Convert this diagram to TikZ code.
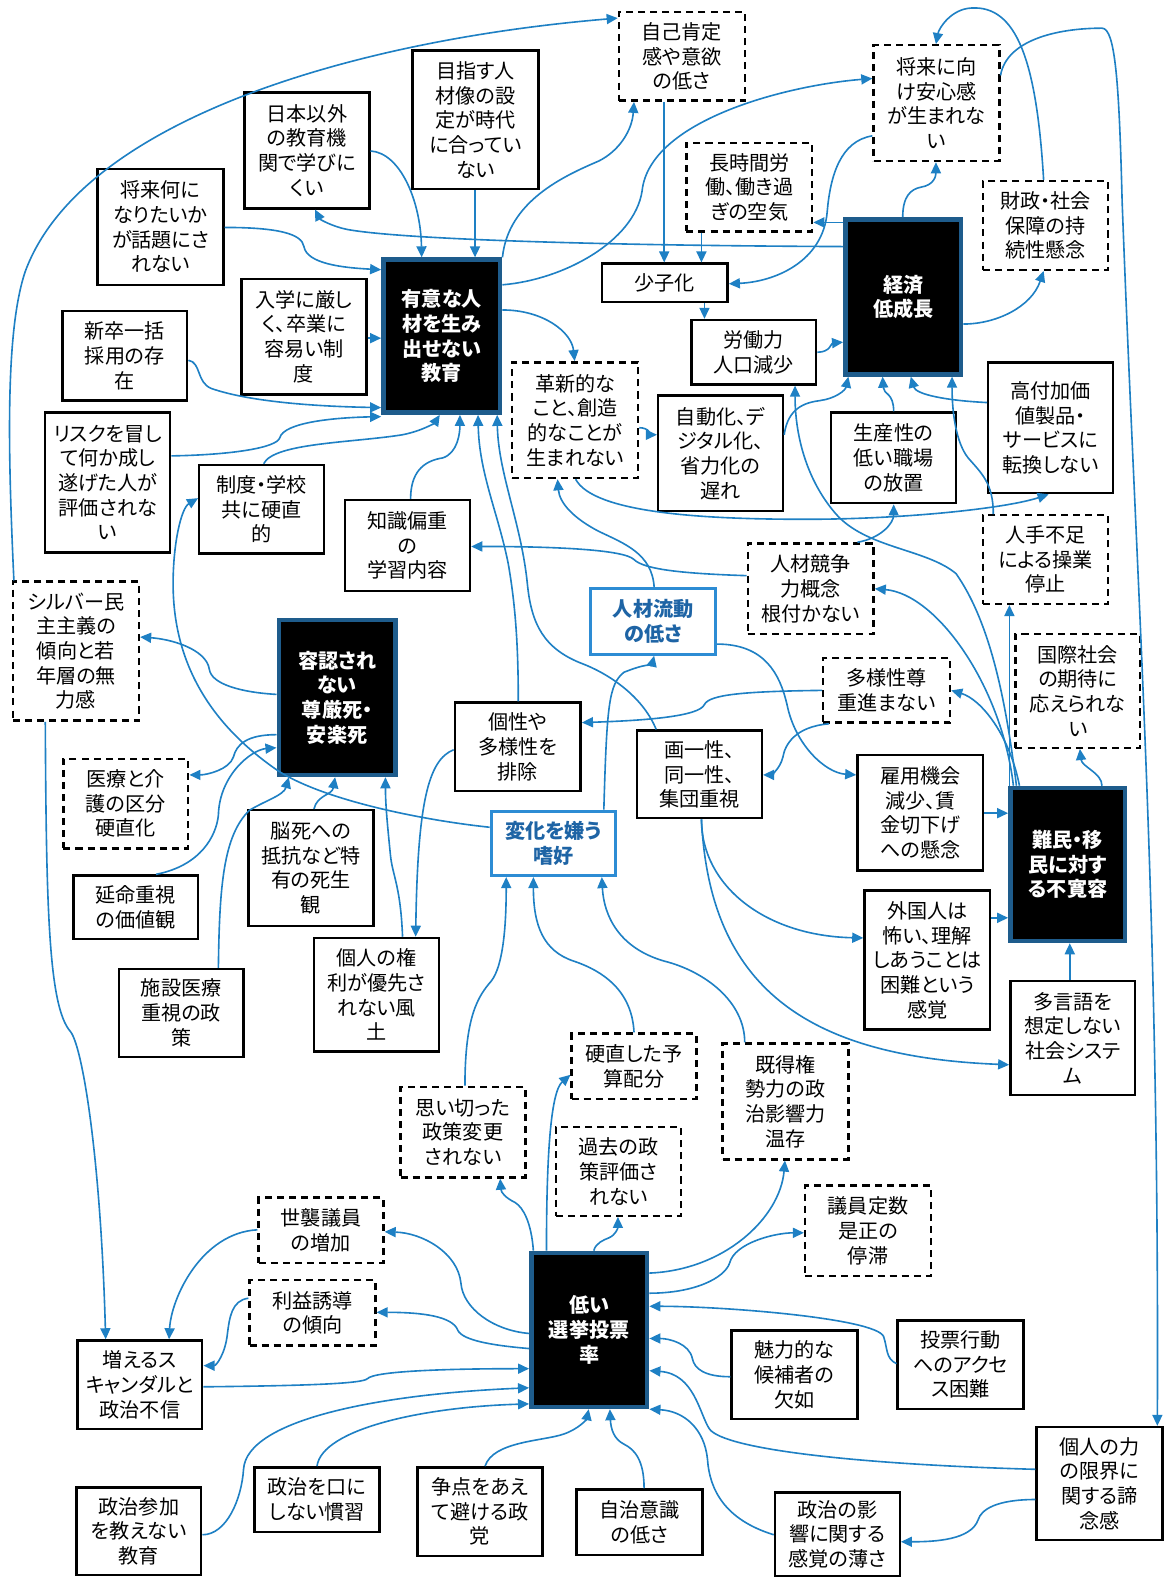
\documentclass[tikz,border=0pt]{standalone}
\usepackage{fontspec}
\setmainfont{Noto Sans CJK JP}[RawFeature=+palt]
\usetikzlibrary{arrows.meta}
\definecolor{linkblue}{RGB}{30,128,196}
\definecolor{keyedge}{RGB}{30,92,140}
\definecolor{flowedge}{RGB}{45,140,212}
\definecolor{flowtext}{RGB}{30,100,165}
\tikzset{
  txt/.style={inner sep=0pt, align=center, font=\fontsize{20pt}{24.5pt}\selectfont},
  sz/.style 2 args={minimum width=#1pt, minimum height=#2pt},
  sbox/.style={txt, draw=black, line width=2.4pt, fill=white},
  dbox/.style={txt, draw=black, line width=2.4pt, fill=white, dash pattern=on 7pt off 5pt},
  kbox/.style={txt, draw=keyedge, line width=4.5pt, fill=black, text=white, font=\fontsize{20pt}{24.5pt}\selectfont\bfseries},
  fbox/.style={txt, draw=flowedge, line width=3pt, fill=white, text=flowtext, font=\fontsize{20pt}{24.5pt}\selectfont\bfseries},
  link/.style={draw=linkblue, line width=1.6pt, -{Triangle[length=11pt,width=10pt]}}
}
\begin{document}
\begin{tikzpicture}[x=1pt, y=-1pt]
\fill[white] (0,0) rectangle (1160,1568);
\useasboundingbox (0,0) rectangle (1160,1568);

% ---- boxes ----
\node[dbox, sz={125}{88}]  (A)  at (677.5,56)   {自己肯定\\感や意欲\\の低さ};
\node[sbox, sz={125}{138}] (B)  at (472.5,119)  {目指す人\\材像の設\\定が時代\\に合ってい\\ない};
\node[sbox, sz={124}{115}] (C)  at (305,149.5)  {日本以外\\の教育機\\関で学びに\\くい};
\node[sbox, sz={125}{115}] (D)  at (159.5,225.5) {将来何に\\なりたいか\\が話題にさ\\れない};
\node[dbox, sz={125}{115}] (E)  at (930.5,102.5) {将来に向\\け安心感\\が生まれな\\い};
\node[dbox, sz={125}{88}]  (F)  at (744.5,186)  {長時間労\\働、働き過\\ぎの空気};
\node[dbox, sz={124}{88}]  (G)  at (1039,224)   {財政・社会\\保障の持\\続性懸念};
\node[sbox, sz={125}{38}]  (H)  at (660.5,281)  {少子化};
\node[kbox, sz={115}{154}] (I)  at (897.5,295)  {経済\\低成長};
\node[sbox, sz={124}{64}]  (J)  at (749,350)    {労働力\\人口減少};
\node[kbox, sz={116}{152}] (K)  at (439,334)    {有意な人\\材を生み\\出せない\\教育};
\node[sbox, sz={124}{115}] (L)  at (302,334.5)  {入学に厳し\\く、卒業に\\容易い制\\度};
\node[sbox, sz={124}{89}]  (M)  at (124,353.5)  {新卒一括\\採用の存\\在};
\node[sbox, sz={124}{139}] (N)  at (107,479.5)  {リスクを冒し\\て何か成し\\遂げた人が\\評価されな\\い};
\node[sbox, sz={124}{88}]  (O)  at (260,506)    {制度・学校\\共に硬直\\的};
\node[sbox, sz={124}{90}]  (P)  at (405,542)    {知識偏重\\の\\学習内容};
\node[dbox, sz={125}{115}] (Q)  at (571.5,417.5) {革新的な\\こと、創造\\的なことが\\生まれない};
\node[sbox, sz={124}{115}] (R)  at (716,450.5)  {自動化、デ\\ジタル化、\\省力化の\\遅れ};
\node[sbox, sz={124}{90}]  (S)  at (888,455)    {生産性の\\低い職場\\の放置};
\node[sbox, sz={124}{130}] (T)  at (1044,425)   {高付加価\\値製品・\\サービスに\\転換しない};
\node[dbox, sz={125}{90}]  (U)  at (805.5,585)  {人材競争\\力概念\\根付かない};
\node[dbox, sz={124}{88}]  (V)  at (1039,556)   {人手不足\\による操業\\停止};
\node[fbox, sz={124}{65}]  (W)  at (649,617.5)  {人材流動\\の低さ};
\node[dbox, sz={125}{138}] (X)  at (75.5,647)   {シルバー民\\主主義の\\傾向と若\\年層の無\\力感};
\node[kbox, sz={116}{154}] (Y)  at (335,693)    {容認され\\ない\\尊厳死・\\安楽死};
\node[sbox, sz={125}{88}]  (Z)  at (514.5,742)  {個性や\\多様性を\\排除};
\node[dbox, sz={126}{64}]  (AA) at (881,686)    {多様性尊\\重進まない};
\node[dbox, sz={124}{113}] (AB) at (1071,686.5) {国際社会\\の期待に\\応えられな\\い};
\node[sbox, sz={124}{87}]  (AC) at (695,769.5)  {画一性、\\同一性、\\集団重視};
\node[dbox, sz={124}{89}]  (AD) at (125,798.5)  {医療と介\\護の区分\\硬直化};
\node[fbox, sz={124}{64}]  (AE) at (550,838)    {変化を嫌う\\嗜好};
\node[sbox, sz={125}{115}] (AF) at (914.5,807.5) {雇用機会\\減少、賃\\金切下げ\\への懸念};
\node[kbox, sz={114}{152}] (AG) at (1061,859)   {難民・移\\民に対す\\る不寛容};
\node[sbox, sz={124}{63}]  (AH) at (135,901.5)  {延命重視\\の価値観};
\node[sbox, sz={124}{115}] (AI) at (309,862.5)  {脳死への\\抵抗など特\\有の死生\\観};
\node[sbox, sz={125}{138}] (AJ) at (921.5,954)  {外国人は\\怖い、理解\\しあうことは\\困難という\\感覚};
\node[sbox, sz={124}{87}]  (AK) at (180,1006.5) {施設医療\\重視の政\\策};
\node[sbox, sz={124}{113}] (AL) at (374,988.5)  {個人の権\\利が優先さ\\れない風\\土};
\node[sbox, sz={124}{113}] (AM) at (1066,1031.5) {多言語を\\想定しない\\社会システ\\ム};
\node[dbox, sz={124}{65}]  (AN) at (630,1059.5) {硬直した予\\算配分};
\node[dbox, sz={125}{115}] (AO) at (780.5,1094.5) {既得権\\勢力の政\\治影響力\\温存};
\node[dbox, sz={124}{90}]  (AP) at (460,1125)   {思い切った\\政策変更\\されない};
\node[dbox, sz={124}{88}]  (AQ) at (614.5,1164) {過去の政\\策評価さ\\れない};
\node[dbox, sz={125}{90}]  (AR) at (862.5,1223) {議員定数\\是正の\\停滞};
\node[dbox, sz={124}{65}]  (AS) at (319,1222.5) {世襲議員\\の増加};
\node[dbox, sz={125}{65}]  (AT) at (310.5,1304.5) {利益誘導\\の傾向};
\node[kbox, sz={115}{153}] (AU) at (585.5,1321.5) {低い\\選挙投票\\率};
\node[sbox, sz={124}{88}]  (AV) at (139,1376)   {増えるス\\キャンダルと\\政治不信};
\node[sbox, sz={125}{88}]  (AW) at (789.5,1366) {魅力的な\\候補者の\\欠如};
\node[sbox, sz={125}{88}]  (AX) at (954.5,1356) {投票行動\\へのアクセ\\ス困難};
\node[sbox, sz={125}{112}] (AY) at (1092.5,1474) {個人の力\\の限界に\\関する諦\\念感};
\node[sbox, sz={124}{87}]  (AZ) at (138,1521.5) {政治参加\\を教えない\\教育};
\node[sbox, sz={124}{64}]  (BA) at (315,1490)   {政治を口に\\しない慣習};
\node[sbox, sz={124}{88}]  (BB) at (477,1502)   {争点をあえ\\て避ける政\\党};
\node[sbox, sz={125}{65}]  (BC) at (635.5,1512.5) {自治意識\\の低さ};
\node[sbox, sz={124}{83}]  (BD) at (832,1524.5) {政治の影\\響に関する\\感覚の薄さ};

% ---- links: education ----
\draw[link] (D.east |- 0,226) .. controls (275,226) and (300,232) .. (302,245) .. controls (305,262) and (340,266) .. (K.west |- 0,268);
\draw[link] (C.east |- 0,150) .. controls (398,152) and (418,200) .. (419,0 |- K.north);
\draw[link] (472,0 |- B.south) -- (472,0 |- K.north);
\draw[link] (L.east |- 0,336) -- (K.west |- 0,336);
\draw[link] (M.east |- 0,358) .. controls (200,360) and (195,380) .. (210,386) .. controls (250,400) and (320,404) .. (K.west |- 0,405);
\draw[link] (N.east |- 0,453) .. controls (230,452) and (275,445) .. (278,435) .. controls (282,420) and (330,415) .. (K.west |- 0,414);
\draw[link] (262,0 |- O.north) .. controls (272,440) and (350,440) .. (400,432) .. controls (420,428) and (432,420) .. (437,0 |- K.south);
\draw[link] (408,0 |- P.north) .. controls (408,470) and (420,458) .. (440,455) .. controls (455,450) and (457,430) .. (457,0 |- K.south);
\draw[link] (515,0 |- Z.north) .. controls (515,640) and (512,600) .. (505,560) .. controls (495,510) and (476,470) .. (475,0 |- K.south);
\draw[link] (652,0 |- AC.north) .. controls (640,695) and (610,672) .. (580,660) .. controls (540,645) and (528,620) .. (524,580) .. controls (518,520) and (495,470) .. (494,0 |- K.south);
\draw[link] (K.east |- 0,308) .. controls (540,308) and (568,330) .. (571,0 |- Q.north);
\draw[link] (K.north east) .. controls (505,200) and (560,175) .. (595,160) .. controls (615,150) and (628,130) .. (630,0 |- A.south);
\draw[link] (K.east |- 0,283) .. controls (560,278) and (630,240) .. (638,190) .. controls (645,120) and (780,85) .. (E.west |- 0,78);
\draw[link] ([xshift=2pt]X.north west) .. controls (8,450) and (5,330) .. (25,270) .. controls (80,120) and (350,40) .. (A.west |- 0,18);

% ---- links: economy ----
\draw[link] (660,0 |- A.south) -- (660,0 |- H.north);
\draw[link] (697,0 |- F.south) -- (697,0 |- H.north);
\draw[link] (E.west |- 0,135) .. controls (835,140) and (825,175) .. (822,210) .. controls (818,260) and (770,280) .. (H.east |- 0,282);
\draw[link] (I.west |- 0,221) -- (F.east |- 0,221);
\draw[link] (897,0 |- I.north) .. controls (897,195) and (905,188) .. (915,186) .. controls (928,184) and (930,175) .. (930,0 |- E.south);
\draw[link] (I.east |- 0,322) .. controls (990,322) and (1025,305) .. (1037,0 |- G.south);
\draw[link] (I.west |- 0,245) .. controls (600,244) and (400,238) .. (345,228) .. controls (330,225) and (318,218) .. (313,0 |- C.south);
\draw[link] (1037,0 |- G.north) .. controls (1030,60) and (1010,5) .. (965,8) .. controls (945,9) and (933,28) .. (930,0 |- E.north);
\draw[link] (E.east |- 0,75) .. controls (1000,40) and (1050,28) .. (1095,28) .. controls (1108,28) and (1112,80) .. (1115,200) .. controls (1130,600) and (1152,900) .. (1150,0 |- AY.north);
\draw[link] (J.east |- 0,350) .. controls (825,350) and (826,341) .. (I.west |- 0,340);
\draw[link] (700,0 |- H.south) -- (700,0 |- J.north);
\draw[link] (R.east |- 0,432) .. controls (783,405) and (800,400) .. (815,398) .. controls (830,396) and (840,388) .. (843,0 |- I.south);
\draw[link] (888,0 |- S.north) .. controls (888,390) and (878,392) .. (877,0 |- I.south);
\draw[link] (T.west |- 0,400) .. controls (940,398) and (910,392) .. (905,0 |- I.south);
\draw[link] (987,0 |- V.north) .. controls (987,480) and (975,470) .. (962,455) .. controls (950,440) and (946,410) .. (946,0 |- I.south);
\draw[link] (Q.east |- 0,425) .. controls (645,425) and (648,432) .. (R.west |- 0,432);
\draw[link] (572,0 |- Q.south) .. controls (590,510) and (700,516) .. (800,516) .. controls (900,516) and (1000,505) .. (1042,0 |- T.south);
\draw[link] (852,0 |- U.north) .. controls (875,535) and (888,520) .. (888,0 |- S.south);
\draw[link] (U.west |- 0,572) .. controls (680,570) and (640,566) .. (630,556) .. controls (620,546) and (550,543) .. (P.east |- 0,543);
\draw[link] (650,0 |- W.north) .. controls (648,550) and (620,540) .. (595,528) .. controls (570,515) and (556,500) .. (554,0 |- Q.south);
\draw[link] (W.east |- 0,640) .. controls (760,640) and (775,670) .. (782,700) .. controls (790,740) and (820,768) .. (AF.west |- 0,770);

% ---- links: intolerance ----
\draw[link] (1010,0 |- AG.north) .. controls (1000,700) and (985,620) .. (950,570) .. controls (920,545) and (860,545) .. (830,510) .. controls (800,475) and (790,430) .. (790,0 |- J.south);
\draw[link] (1003,0 |- AG.north) -- (1003,0 |- V.south);
\draw[link] (1007,0 |- AG.north) .. controls (995,680) and (930,590) .. (U.east |- 0,585);
\draw[link] (1013,0 |- AG.north) .. controls (1003,730) and (975,695) .. (AA.east |- 0,686);
\draw[link] (1095,0 |- AG.north) .. controls (1095,768) and (1075,762) .. (1073,0 |- AB.south);
\draw[link] (AA.west |- 0,686) .. controls (740,687) and (705,690) .. (700,700) .. controls (695,712) and (640,716) .. (Z.east |- 0,718);
\draw[link] ([xshift=7pt]AA.south west) .. controls (790,722) and (780,740) .. (778,752) .. controls (775,765) and (765,770) .. (AC.east |- 0,770);
\draw[link] (697,0 |- AC.south) .. controls (697,880) and (760,930) .. (AJ.west |- 0,932);
\draw[link] (697,0 |- AC.south) .. controls (705,980) and (800,1050) .. (AM.west |- 0,1058);
\draw[link] (AF.east |- 0,808) -- (AG.west |- 0,808);
\draw[link] (AJ.east |- 0,912) -- (AG.west |- 0,912);
\draw[link] (1063,0 |- AM.north) -- (1063,0 |- AG.south);

% ---- links: change aversion, end of life ----
\draw[link] (600,0 |- AE.north) .. controls (603,700) and (605,680) .. (620,668) .. controls (640,660) and (648,660) .. (650,0 |- W.south);
\draw[link] (AE.west |- 0,822) .. controls (420,815) and (320,795) .. (275,765) .. controls (210,720) and (172,660) .. (172,580) .. controls (172,540) and (180,505) .. (O.west |- 0,495);
\draw[link] (Y.west |- 0,690) .. controls (240,688) and (210,680) .. (208,665) .. controls (205,645) and (170,635) .. (X.east |- 0,633);
\draw[link] (Y.west |- 0,730) .. controls (245,730) and (235,740) .. (232,752) .. controls (228,765) and (205,770) .. (AD.east |- 0,770);
\draw[link] (155,0 |- AH.north) .. controls (200,860) and (215,830) .. (217,810) .. controls (218,770) and (250,745) .. (Y.west |- 0,743);
\draw[link] (217,0 |- AK.north) .. controls (218,880) and (222,830) .. (248,805) .. controls (265,795) and (282,790) .. (287,0 |- Y.south);
\draw[link] (312,0 |- AI.north) .. controls (315,790) and (330,790) .. (333,0 |- Y.south);
\draw[link] (400,0 |- AL.north) .. controls (398,880) and (390,870) .. (388,850) .. controls (385,820) and (383,800) .. (383,0 |- Y.south);
\draw[link] (Z.west |- 0,745) .. controls (425,755) and (415,800) .. (413,0 |- AL.north);
\draw[link] (462,0 |- AP.north) .. controls (462,1010) and (475,990) .. (488,975) .. controls (500,960) and (503,920) .. (503,0 |- AE.south);
\draw[link] (630,0 |- AN.north) .. controls (628,985) and (600,965) .. (570,955) .. controls (540,945) and (530,920) .. (530,0 |- AE.south);
\draw[link] (740,0 |- AO.north) .. controls (740,995) and (700,965) .. (660,955) .. controls (615,942) and (600,910) .. (598,0 |- AE.south);

% ---- links: elections ----
\draw[link] (45,0 |- X.south) .. controls (46,900) and (48,1000) .. (70,1025) .. controls (82,1040) and (100,1150) .. (105,0 |- AV.north);
\draw[link] (AS.west |- 0,1222) .. controls (200,1225) and (170,1290) .. (168,0 |- AV.north);
\draw[link] (AT.west |- 0,1290) .. controls (230,1292) and (228,1310) .. (226,1325) .. controls (224,1345) and (215,1357) .. (AV.east |- 0,1357);
\draw[link] (AU.west |- 0,1325) .. controls (490,1322) and (460,1300) .. (458,1275) .. controls (455,1245) and (420,1225) .. (AS.east |- 0,1224);
\draw[link] (AU.west |- 0,1340) .. controls (490,1337) and (460,1332) .. (455,1322) .. controls (450,1308) and (420,1304) .. (AT.east |- 0,1304);
\draw[link] (AV.east |- 0,1378) .. controls (300,1377) and (360,1375) .. (365,1370) .. controls (372,1362) and (450,1360) .. (AU.west |- 0,1360);
\draw[link] (AZ.east |- 0,1525) .. controls (225,1525) and (240,1490) .. (242,1460) .. controls (245,1410) and (380,1385) .. (AU.west |- 0,1379);
\draw[link] (315,0 |- BA.north) .. controls (320,1420) and (420,1398) .. (AU.west |- 0,1395);
\draw[link] (482,0 |- BB.north) .. controls (490,1432) and (540,1432) .. (560,1425) .. controls (575,1420) and (583,1410) .. (585,0 |- AU.south);
\draw[link] (640,0 |- BC.north) .. controls (640,1450) and (630,1440) .. (620,1435) .. controls (610,1430) and (607,1420) .. (606,0 |- AU.south);
\draw[link] (BD.west |- 0,1525) .. controls (720,1510) and (705,1480) .. (703,1450) .. controls (700,1420) and (680,1402) .. (AU.south east);
\draw[link] (AY.west |- 0,1460) .. controls (850,1455) and (720,1440) .. (705,1420) .. controls (695,1405) and (690,1365) .. (AU.east |- 0,1362);
\draw[link] (AY.west |- 0,1490) .. controls (990,1490) and (975,1500) .. (972,1510) .. controls (965,1530) and (930,1532) .. (BD.east |- 0,1532);
\draw[link] (AW.west |- 0,1368) .. controls (700,1368) and (690,1360) .. (688,1350) .. controls (685,1335) and (665,1330) .. (AU.east |- 0,1330);
\draw[link] (AX.west |- 0,1355) .. controls (880,1350) and (882,1340) .. (878,1328) .. controls (870,1310) and (720,1298) .. (AU.east |- 0,1298);
\draw[link] (AU.east |- 0,1285) .. controls (690,1285) and (720,1270) .. (725,1255) .. controls (730,1235) and (770,1225) .. (AR.west |- 0,1225);
\draw[link] (AU.east |- 0,1265) .. controls (720,1262) and (775,1210) .. (780,0 |- AO.south);
\draw[link] (590,0 |- AU.north) .. controls (592,1235) and (600,1232) .. (605,1230) .. controls (612,1227) and (614,1220) .. (614,0 |- AQ.south);
\draw[link] (543,0 |- AU.north) .. controls (543,1150) and (547,1085) .. (AN.west |- 0,1068);
\draw[link] (530,0 |- AU.north) .. controls (528,1215) and (520,1200) .. (512,1195) .. controls (502,1190) and (498,1185) .. (497,0 |- AP.south);
\end{tikzpicture}
\end{document}
